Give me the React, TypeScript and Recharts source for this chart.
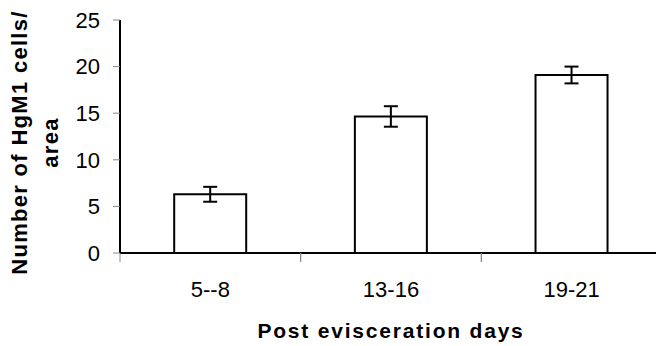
import { Bar, BarChart, ErrorBar, XAxis, YAxis } from 'recharts';

const periods = ['5--8', '13-16', '19-21'];
const cellCounts = [6.3, 14.65, 19.1];
const cellErrors = [0.8, 1.1, 0.9];
const yTicks = [0, 5, 10, 15, 20, 25];

const data = periods.map((period, i) => ({ period, count: cellCounts[i], err: cellErrors[i] }));

const FONT = '"Liberation Sans", Arial, sans-serif';

function XTick(props: any) {
  const { x, y, payload } = props;
  const half = payload?.offset ?? 90;
  return (
    <g>
      <line x1={x - half} y1={y} x2={x - half} y2={y + 9} stroke="#888" strokeWidth={1} />
      <line x1={x + half} y1={y} x2={x + half} y2={y + 9} stroke="#888" strokeWidth={1} />
      <text x={x} y={y + 44} textAnchor="middle" fontSize={22} fill="#000" fontFamily={FONT}>
        {payload.value}
      </text>
    </g>
  );
}

function YTitle(props: any) {
  const { x, y, height } = props.viewBox;
  const cy = y + height / 2 + 6;
  const style = { fontFamily: FONT, fontSize: 22, fontWeight: 700, letterSpacing: 1.3 };
  return (
    <g>
      <text x={x + 27} y={cy} transform={`rotate(-90 ${x + 27} ${cy})`} textAnchor="middle" fill="#000" style={style}>
        Number of HgM1 cells/
      </text>
      <text x={x + 58} y={cy} transform={`rotate(-90 ${x + 58} ${cy})`} textAnchor="middle" fill="#000" style={style}>
        area
      </text>
    </g>
  );
}

function XTitle(props: any) {
  const { x, y, width } = props.viewBox;
  return (
    <text x={x + width / 2} y={y + 85} textAnchor="middle" fill="#000"
      style={{ fontFamily: FONT, fontSize: 21, fontWeight: 700, letterSpacing: 1.8 }}>
      Post evisceration days
    </text>
  );
}

export default function App() {
  return (
    <div style={{ position: 'absolute', left: 0, top: 0, width: 656, height: 346, overflow: 'hidden', background: '#fff' }}>
      <BarChart width={672} height={346} data={data} margin={{ top: 20, right: 10, bottom: 0, left: 0 }} barCategoryGap="30%">
        <XAxis xAxisId="top" dataKey="period" orientation="top" height={0} tick={false} tickLine={false}
          axisLine={{ stroke: '#000', strokeWidth: 2 }} />
        <XAxis dataKey="period" height={93} tickSize={0} tickMargin={0} tick={<XTick />}
          axisLine={{ stroke: '#000', strokeWidth: 2 }} label={<XTitle />} />
        <YAxis domain={[0, 25]} ticks={yTicks} width={120} tickSize={7} tickMargin={13} stroke="#888"
          axisLine={{ stroke: '#000', strokeWidth: 2 }}
          tick={{ fill: '#000', fontSize: 22, fontFamily: FONT }} label={<YTitle />} />
        <Bar dataKey="count" fill="#fff" stroke="#000" strokeWidth={2} isAnimationActive={false}>
          <ErrorBar dataKey="err" width={7} stroke="#000" strokeWidth={2} />
        </Bar>
      </BarChart>
    </div>
  );
}
